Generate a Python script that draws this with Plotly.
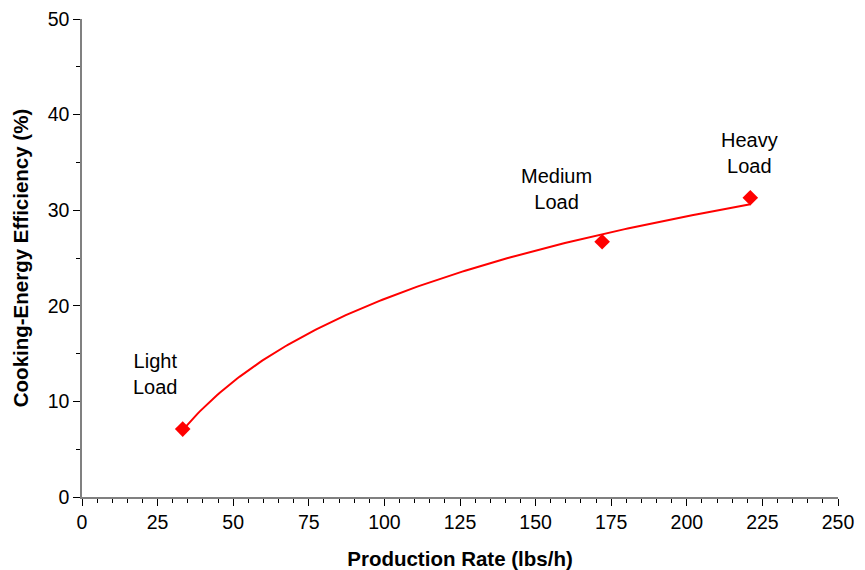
import numpy as np
import plotly.graph_objects as go

# Data
production_rate = [33.3, 172.0, 221.0]      # lbs/h
efficiency = [7.1, 26.7, 31.3]              # %
load_labels = ["Light<br>Load", "Medium<br>Load", "Heavy<br>Load"]
label_x = [24.4, 156.8, 220.8]
label_y = [12.9, 32.2, 36.0]
x_ticks = list(range(0, 251, 25))
y_ticks = list(range(0, 51, 10))

# Logarithmic trend line fitted to the data
a, b = np.polyfit(np.log(production_rate), efficiency, 1)
xt = np.linspace(min(production_rate), max(production_rate), 200)
yt = a * np.log(xt) + b

FONT = "Liberation Sans, Arial, sans-serif"

fig = go.Figure()
fig.add_trace(go.Scatter(x=xt, y=yt, mode="lines",
                         line=dict(color="#ff0000", width=2), hoverinfo="skip"))
fig.add_trace(go.Scatter(x=production_rate, y=efficiency, mode="markers",
                         marker=dict(symbol="diamond", size=12, color="#ff0000")))

for lx, ly, t in zip(label_x, label_y, load_labels):
    fig.add_annotation(x=lx, y=ly, text=t, showarrow=False,
                       font=dict(family=FONT, size=20, color="black"))

axis_common = dict(showgrid=False, zeroline=False, showline=True, linecolor="#808080",
                   linewidth=1.5, ticks="outside", ticklen=7, tickcolor="black",
                   automargin=False, ticklabeloverflow="allow",
                   tickfont=dict(family=FONT, size=19.5, color="black"))

fig.update_xaxes(range=[0, 250], tickvals=x_ticks,
                 minor=dict(dtick=5, ticks="outside", ticklen=4, tickcolor="black"),
                 title=dict(text="<b>Production Rate (lbs/h)</b>", standoff=19,
                            font=dict(family=FONT, size=20.5, color="black")),
                 **axis_common)
fig.update_yaxes(range=[0, 50], tickvals=y_ticks,
                 minor=dict(dtick=5, ticks="outside", ticklen=4, tickcolor="black"),
                 title=dict(text="<b>Cooking-Energy Efficiency (%)</b>", standoff=13,
                            font=dict(family=FONT, size=20.5, color="black")),
                 **axis_common)

fig.update_layout(width=857, height=562, showlegend=False,
                  plot_bgcolor="white", paper_bgcolor="white",
                  margin=dict(l=74, r=27, t=11, b=73))
fig.write_html("out.html")
